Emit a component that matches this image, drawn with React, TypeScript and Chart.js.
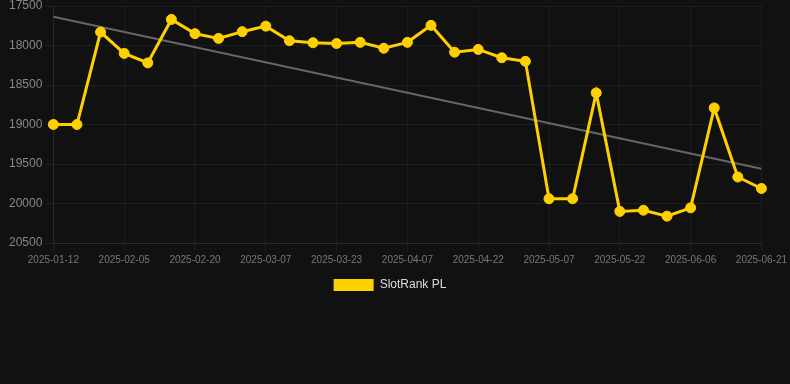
import React, { useEffect, useRef } from "react";
import { Chart, registerables } from "chart.js";

Chart.register(...registerables);

const dates: string[] = [
  "2025-01-12", "2025-01-20", "2025-01-28",
  "2025-02-05", "2025-02-10", "2025-02-15",
  "2025-02-20", "2025-02-25", "2025-03-02",
  "2025-03-07", "2025-03-12", "2025-03-17",
  "2025-03-23", "2025-03-28", "2025-04-02",
  "2025-04-07", "2025-04-12", "2025-04-17",
  "2025-04-22", "2025-04-27", "2025-05-02",
  "2025-05-07", "2025-05-12", "2025-05-17",
  "2025-05-22", "2025-05-27", "2025-06-01",
  "2025-06-06", "2025-06-11", "2025-06-16",
  "2025-06-21",
];

const rankValues: number[] = [
  19000, 19000, 17830, 18100, 18220, 17670, 17850, 17910, 17825, 17755,
  17940, 17965, 17975, 17960, 18035, 17960, 17745, 18085, 18050, 18155,
  18200, 19940, 19940, 18600, 20100, 20085, 20160, 20055, 18790, 19665,
  19810,
];

const trendStart = 17635;
const trendEnd = 19560;

const yTicks = { min: 17500, max: 20500, step: 500 };

const FONT = "Liberation Sans, Arial, sans-serif";

export default function App() {
  const ref = useRef<HTMLCanvasElement | null>(null);

  useEffect(() => {
    document.body.style.margin = "0";
    document.body.style.background = "#111111";
    if (!ref.current) return;
    const trend: (number | null)[] = dates.map((_, i) =>
      i === 0 ? trendStart : i === dates.length - 1 ? trendEnd : null
    );
    const chart = new Chart(ref.current, {
      type: "line",
      data: {
        labels: dates,
        datasets: [
          {
            label: "SlotRank PL",
            data: rankValues,
            borderColor: "#ffd000",
            backgroundColor: "#ffd000",
            borderWidth: 3,
            pointRadius: 5,
            pointHoverRadius: 5,
            pointBorderWidth: 1,
            pointBackgroundColor: "#ffd000",
            pointBorderColor: "#ffd000",
            tension: 0,
            order: 0,
          },
          {
            label: "Trend",
            data: trend,
            borderColor: "#666666",
            backgroundColor: "#666666",
            borderWidth: 2,
            pointRadius: 0,
            pointHoverRadius: 0,
            spanGaps: true,
            tension: 0,
            order: 1,
          },
        ],
      },
      options: {
        animation: false,
        responsive: true,
        maintainAspectRatio: false,
        layout: { padding: { left: 6, right: 16, top: 0, bottom: 0 } },
        plugins: {
          legend: {
            position: "bottom",
            labels: {
              color: "#dddddd",
              font: { size: 12, family: FONT },
              boxWidth: 40,
              boxHeight: 12,
              generateLabels: (c) =>
                Chart.defaults.plugins.legend.labels
                  .generateLabels(c)
                  .filter((it) => it.text !== "Trend")
                  .map((it) => ({ ...it, lineWidth: 0 })),
            },
          },
          tooltip: { enabled: false },
        },
        scales: {
          x: {
            type: "category",
            grid: { color: "rgba(255,255,255,0.05)" },
            border: { color: "rgba(255,255,255,0.08)" },
            ticks: {
              color: "#777777",
              font: { size: 10, family: FONT },
              maxRotation: 0,
              autoSkip: true,
              maxTicksLimit: 11,
            },
          },
          y: {
            reverse: true,
            min: yTicks.min,
            max: yTicks.max,
            grid: { color: "rgba(255,255,255,0.05)" },
            border: { color: "rgba(255,255,255,0.05)" },
            afterFit: (axis: any) => {
              axis.paddingTop = 6;
            },
            ticks: {
              stepSize: yTicks.step,
              color: "#888888",
              font: { size: 12, family: FONT },
              callback: (v) => String(v),
            },
          },
        },
      },
    });
    return () => chart.destroy();
  }, []);

  return (
    <div style={{ position: "absolute", left: 0, top: 0, width: 790, height: 384, background: "#111111" }}>
      <div style={{ position: "relative", width: 790, height: 301 }}>
        <canvas ref={ref} />
      </div>
    </div>
  );
}
